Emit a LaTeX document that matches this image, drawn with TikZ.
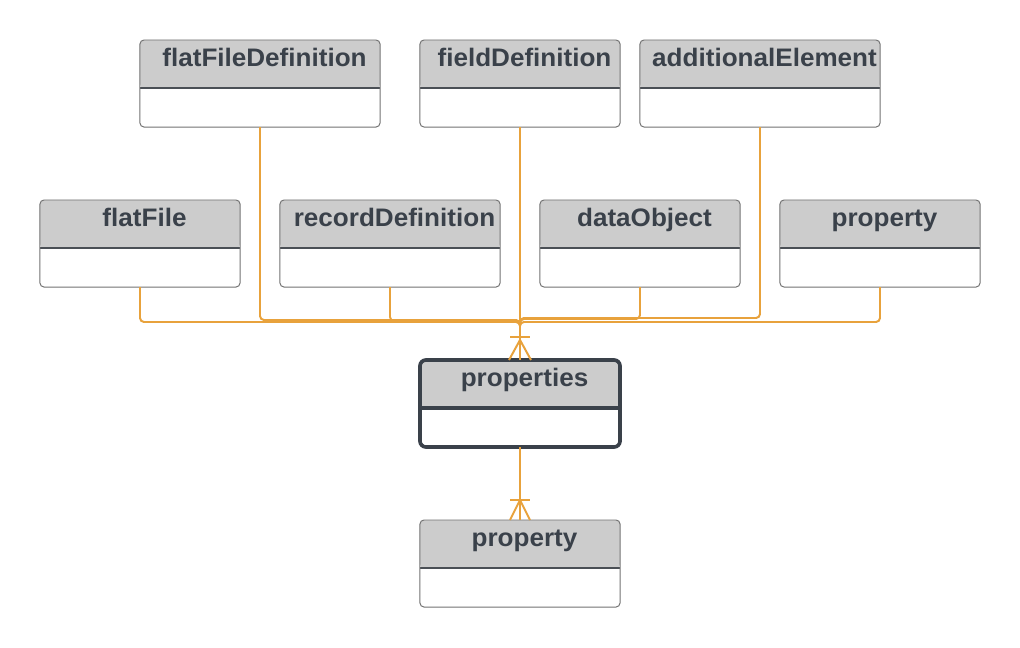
\documentclass[tikz,border=0pt]{standalone}
\usepackage{fontspec}
\newfontfamily\hdrfont[FakeStretch=1.03]{Liberation Sans}
\usepackage{tikz}
\usetikzlibrary{calc}

\definecolor{linkorange}{HTML}{E8A23C}
\definecolor{hdrgray}{HTML}{CCCCCC}
\definecolor{boxgray}{HTML}{737373}
\definecolor{divgray}{HTML}{4A4F55}
\definecolor{txtdark}{HTML}{3A414A}

\begin{document}
\begin{tikzpicture}[x=0.025cm, y=-0.025cm,
  divider/.style={draw=divgray, line width=0.8pt},
  entity/.style={draw=boxgray, line width=0.7pt, rounded corners=0.1cm,
    minimum width=5cm, minimum height=2.175cm, inner sep=0pt, outer sep=0pt,
    path picture={
      \fill[hdrgray] (path picture bounding box.north west) rectangle ([yshift=-1.2cm]path picture bounding box.north east);
      \draw[divider] ([yshift=-1.2cm]path picture bounding box.north west) -- ([yshift=-1.2cm]path picture bounding box.north east);
    }},
  hdr/.style={font=\hdrfont\bfseries\fontsize{18}{21}\selectfont, text=txtdark, anchor=base, inner sep=0pt},
  link/.style={draw=linkorange, line width=1.4pt, rounded corners=0.1cm}]
\fill[white] (0,0) rectangle (1020,647);
\useasboundingbox (0,0) rectangle (1020,647);

% top row
\node[entity, minimum width=6cm] (ffd) at (260,83.5) {};
\node[entity] (fd) at (520,83.5) {};
\node[entity, minimum width=6cm] (ae) at (760,83.5) {};
% middle row
\node[entity] (ff) at (140,243.5) {};
\node[entity, minimum width=5.5cm] (rd) at (390,243.5) {};
\node[entity] (dobj) at (640,243.5) {};
\node[entity] (prop1) at (880,243.5) {};
% properties and property
\node[entity, draw=txtdark, line width=2.6pt, rounded corners=0.15cm,
  divider/.style={draw=txtdark, line width=2.6pt}] (props) at (520,403.5) {};
\node[entity] (prop2) at (520,563.5) {};

% titles
\node[hdr] (ffd-t) at ($(ffd.north)+(4.5,26.5)$) {flatFileDefinition};
\node[hdr] (fd-t) at ($(fd.north)+(4.5,26.5)$) {fieldDefinition};
\node[hdr] (ae-t) at ($(ae.north)+(4.5,26.5)$) {additionalElement};
\node[hdr] (ff-t) at ($(ff.north)+(4.5,26.5)$) {flatFile};
\node[hdr] (rd-t) at ($(rd.north)+(4.5,26.5)$) {recordDefinition};
\node[hdr] (dobj-t) at ($(dobj.north)+(4.5,26.5)$) {dataObject};
\node[hdr] (prop1-t) at ($(prop1.north)+(4.5,26.5)$) {property};
\node[hdr] (props-t) at ($(props.north)+(4.5,26.5)$) {properties};
\node[hdr] (prop2-t) at ($(prop2.north)+(4.5,26.5)$) {property};

% connectors into properties
\draw[link] (ff.south) |- ($(props.north)+(0,-38)$) -- (props.north);
\draw[link] (ffd.south) |- ($(props.north)+(0,-40)$) -- (props.north);
\draw[link] (rd.south) |- ($(props.north)+(0,-39)$) -- (props.north);
\draw[link] (fd.south) -- (props.north);
\draw[link] (ae.south) |- ($(props.north)+(0,-42)$) -- (props.north);
\draw[link] (dobj.south) |- ($(props.north)+(0,-41)$) -- (props.north);
\draw[link] (prop1.south) |- ($(props.north)+(0,-38)$) -- (props.north);
% crow's foot at properties
\draw[link, rounded corners=0pt] ($(props.north)+(-10,-23)$) -- ($(props.north)+(10,-23)$);
\draw[link, rounded corners=0pt] ($(props.north)+(-11,0)$) -- ($(props.north)+(0,-20)$) -- ($(props.north)+(11,0)$);

% properties to property
\draw[link] (props.south) -- (prop2.north);
\draw[link, rounded corners=0pt] ($(prop2.north)+(-10,-20)$) -- ($(prop2.north)+(10,-20)$);
\draw[link, rounded corners=0pt] ($(prop2.north)+(-10,0)$) -- ($(prop2.north)+(0,-20)$) -- ($(prop2.north)+(10,0)$);
\end{tikzpicture}
\end{document}
